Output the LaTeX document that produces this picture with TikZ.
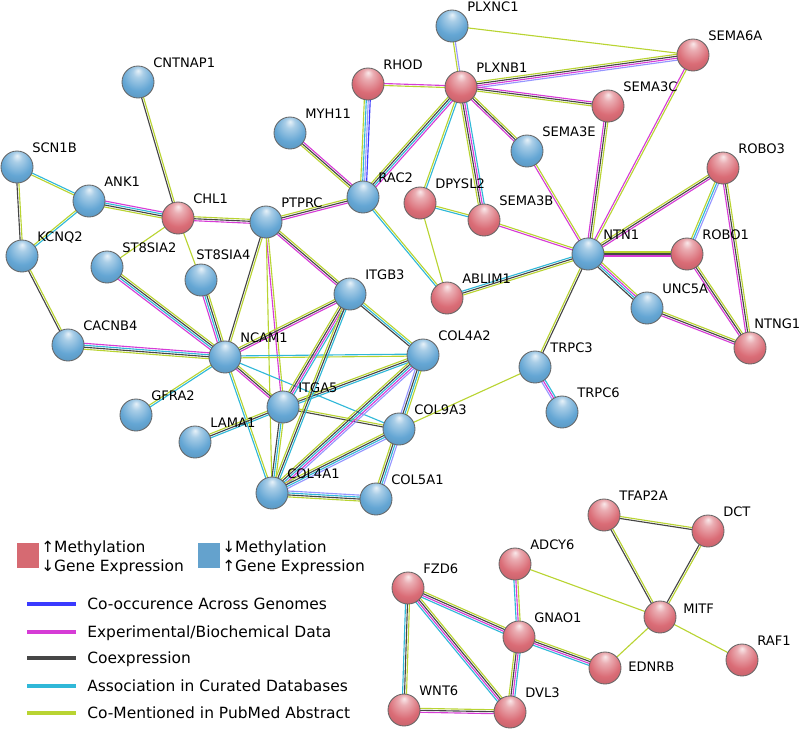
\documentclass[tikz,border=0pt]{standalone}
\usepackage{fontspec}
\setmainfont{DejaVu Sans}
\usetikzlibrary{calc,backgrounds}

\definecolor{hyper}{RGB}{214,106,114}
\definecolor{hypo}{RGB}{100,162,205}
\definecolor{hyperbody}{RGB}{218,108,118}
\definecolor{hypobody}{RGB}{100,166,212}
\definecolor{cooc}{RGB}{58,58,255}
\definecolor{cooclt}{RGB}{150,150,255}
\definecolor{expt}{RGB}{214,60,214}
\definecolor{coex}{RGB}{70,70,70}
\definecolor{cdb}{RGB}{48,184,216}
\definecolor{pubm}{RGB}{185,212,50}

\pgfdeclareradialshading{hyperball}{\pgfpoint{0bp}{18bp}}{color(0bp)=(white!85!hyperbody); color(8bp)=(hyperbody!55!white); color(24bp)=(hyperbody); color(44bp)=(hyperbody!82!black); color(56bp)=(hyperbody!55!black)}
\pgfdeclareradialshading{hypoball}{\pgfpoint{0bp}{18bp}}{color(0bp)=(white!85!hypobody); color(8bp)=(hypobody!55!white); color(24bp)=(hypobody); color(44bp)=(hypobody!82!black); color(56bp)=(hypobody!55!black)}

\tikzset{
	gene/.style={circle, minimum size=0.8cm, inner sep=0pt, shading=#1, draw=black!60, line width=0.6pt},
	tag/.style={anchor=base west, inner sep=0pt, font=\fontsize{9.3}{11}\selectfont},
	legtxt/.style={anchor=base west, inner sep=0pt, font=\fontsize{11}{13}\selectfont},
	strand/.style={line width=0.8pt},
	legline/.style={line width=3.4pt}
}

% sphere + name
\newcommand\gene[5]{\node[gene=#3] (#1) at (#2) {}; \node[tag] (#1-t) at ($(#1.center)+(#5)$) {#4};}
% one strand per evidence channel, side by side
\newcommand\ppi[3]{%
	\foreach \sc [count=\si] in {#3} {\xdef\nk{\si}}%
	\foreach \sc [count=\si] in {#3} {%
		\pgfmathsetmacro\off{(\si-(\nk+1)/2)*1.4}%
		\draw[strand, color=\sc] ($(#1.center)!\off pt!90:(#2.center)$) -- ($(#2.center)!\off pt!-90:(#1.center)$);%
	}%
}

\begin{document}
\begin{tikzpicture}[x=0.025cm, y=-0.025cm]
		%%%%% START %%%%%
		\useasboundingbox (0,0) rectangle (800,732);
		
		% left cluster
		\gene{cntnap1}{138,82}{hypoball}{CNTNAP1}{15,-15}
		\gene{scn1b}{17,167}{hypoball}{SCN1B}{15,-15}
		\gene{ank1}{89,201}{hypoball}{ANK1}{15,-15}
		\gene{chl1}{178,218}{hyperball}{CHL1}{15,-15}
		\gene{ptprc}{266,222}{hypoball}{PTPRC}{15,-15}
		\gene{kcnq2}{22,256}{hypoball}{KCNQ2}{15,-15}
		\gene{st8sia2}{107,267}{hypoball}{ST8SIA2}{15,-15}
		\gene{st8sia4}{201,280}{hypoball}{ST8SIA4}{-5,-21}
		\gene{cacnb4}{68,345}{hypoball}{CACNB4}{15,-15}
		\gene{ncam1}{225,357}{hypoball}{NCAM1}{15,-15}
		\gene{gfra2}{136,415}{hypoball}{GFRA2}{15,-15}
		\gene{lama1}{195,442}{hypoball}{LAMA1}{15,-15}
		\gene{itga5}{283,407}{hypoball}{ITGA5}{15,-15}
		\gene{itgb3}{350,294}{hypoball}{ITGB3}{15,-15}
		\gene{col4a2}{423,355}{hypoball}{COL4A2}{15,-15}
		\gene{col9a3}{399,429}{hypoball}{COL9A3}{15,-15}
		\gene{col4a1}{272,493}{hypoball}{COL4A1}{15,-15}
		\gene{col5a1}{376,499}{hypoball}{COL5A1}{15,-15}
		
		% upper right cluster
		\gene{plxnc1}{452,26}{hypoball}{PLXNC1}{15,-15}
		\gene{rhod}{368,84}{hyperball}{RHOD}{15,-15}
		\gene{plxnb1}{461,87}{hyperball}{PLXNB1}{15,-15}
		\gene{myh11}{290,133}{hypoball}{MYH11}{15,-15}
		\gene{rac2}{363,197}{hypoball}{RAC2}{15,-15}
		\gene{dpysl2}{420,203}{hyperball}{DPYSL2}{15,-15}
		\gene{sema3b}{484,220}{hyperball}{SEMA3B}{15,-15}
		\gene{sema3e}{527,151}{hypoball}{SEMA3E}{15,-15}
		\gene{sema6a}{693,55}{hyperball}{SEMA6A}{15,-15}
		\gene{sema3c}{608,106}{hyperball}{SEMA3C}{15,-15}
		\gene{robo3}{723,168}{hyperball}{ROBO3}{15,-15}
		\gene{ntn1}{588,254}{hypoball}{NTN1}{15,-15}
		\gene{robo1}{687,254}{hyperball}{ROBO1}{15,-15}
		\gene{unc5a}{647,308}{hypoball}{UNC5A}{15,-15}
		\gene{ntng1}{750,348}{hyperball}{NTNG1}{4,-20}
		\gene{ablim1}{447,298}{hyperball}{ABLIM1}{15,-15}
		\gene{trpc3}{535,367}{hypoball}{TRPC3}{15,-15}
		\gene{trpc6}{562,412}{hypoball}{TRPC6}{15,-15}
		
		% lower right cluster
		\gene{tfap2a}{604,515}{hyperball}{TFAP2A}{15,-15}
		\gene{dct}{708,531}{hyperball}{DCT}{15,-15}
		\gene{adcy6}{515,564}{hyperball}{ADCY6}{15,-15}
		\gene{fzd6}{408,588}{hyperball}{FZD6}{15,-15}
		\gene{mitf}{660,617}{hyperball}{MITF}{23,-4}
		\gene{gnao1}{519,637}{hyperball}{GNAO1}{15,-15}
		\gene{ednrb}{605,668}{hyperball}{EDNRB}{23,3}
		\gene{raf1}{742,660}{hyperball}{RAF1}{15,-15}
		\gene{wnt6}{404,710}{hyperball}{WNT6}{15,-15}
		\gene{dvl3}{510,712}{hyperball}{DVL3}{15,-15}
		
		\begin{scope}[on background layer]
		\ppi{cntnap1}{chl1}{coex,pubm}
		\ppi{scn1b}{ank1}{pubm,cdb}
		\ppi{scn1b}{kcnq2}{coex,pubm}
		\ppi{ank1}{kcnq2}{pubm,cdb}
		\ppi{ank1}{chl1}{pubm,coex,cdb,expt}
		\ppi{chl1}{ptprc}{expt,coex,pubm}
		\ppi{chl1}{st8sia2}{pubm}
		\ppi{chl1}{st8sia4}{pubm}
		\ppi{kcnq2}{cacnb4}{coex,pubm}
		\ppi{cacnb4}{ncam1}{pubm,coex,cdb,expt}
		\ppi{st8sia2}{ncam1}{expt,cdb,coex,pubm}
		\ppi{st8sia4}{ncam1}{expt,cdb,coex,pubm}
		\ppi{ptprc}{ncam1}{coex,pubm}
		\ppi{ptprc}{itga5}{expt,pubm}
		\ppi{ptprc}{col4a1}{pubm}
		\ppi{ptprc}{itgb3}{expt,coex,pubm}
		\ppi{ptprc}{rac2}{expt,coex,pubm}
		\ppi{ncam1}{itgb3}{expt,coex,pubm}
		\ppi{ncam1}{col4a2}{pubm,cdb}
		\ppi{ncam1}{col9a3}{cdb}
		\ppi{ncam1}{itga5}{expt,coex,pubm}
		\ppi{ncam1}{col4a1}{cdb,pubm}
		\ppi{ncam1}{gfra2}{pubm,cdb}
		\ppi{itga5}{lama1}{pubm,coex,cdb}
		\ppi{itga5}{col4a1}{coex,cdb,pubm}
		\ppi{itga5}{col9a3}{coex,pubm}
		\ppi{itga5}{col4a2}{cdb,coex,pubm}
		\ppi{itgb3}{itga5}{pubm,coex,expt,cdb}
		\ppi{itgb3}{col4a1}{pubm,coex,cdb}
		\ppi{itgb3}{col4a2}{coex,cdb,pubm}
		\ppi{col4a2}{col9a3}{cooclt,coex,cdb,pubm}
		\ppi{col4a2}{col4a1}{pubm,coex,cdb,expt,cooclt}
		\ppi{col9a3}{col4a1}{pubm,coex,cdb,cooclt}
		\ppi{col9a3}{col5a1}{pubm,coex,cdb,cooclt}
		\ppi{col4a1}{col5a1}{pubm,coex,cdb,cooclt}
		\ppi{col9a3}{trpc3}{pubm}
		
		\ppi{rac2}{rhod}{cooc,cooclt,cdb,pubm}
		\ppi{rac2}{myh11}{expt,coex,pubm}
		\ppi{rac2}{plxnb1}{expt,cdb,coex,pubm}
		\ppi{rac2}{ablim1}{cdb,pubm}
		\ppi{rhod}{plxnb1}{pubm,expt}
		\ppi{plxnc1}{plxnb1}{pubm,cooclt}
		\ppi{plxnc1}{sema6a}{pubm}
		\ppi{plxnb1}{sema6a}{cooclt,expt,coex,pubm}
		\ppi{plxnb1}{sema3c}{pubm,coex,expt}
		\ppi{plxnb1}{sema3e}{expt,coex,pubm}
		\ppi{plxnb1}{dpysl2}{pubm,cdb}
		\ppi{plxnb1}{sema3b}{pubm,coex,expt,cdb}
		\ppi{dpysl2}{sema3b}{cdb,pubm}
		\ppi{dpysl2}{ablim1}{pubm}
		\ppi{sema3b}{ntn1}{expt,pubm}
		\ppi{sema3e}{ntn1}{expt,pubm}
		\ppi{sema3c}{ntn1}{expt,coex,pubm}
		\ppi{sema6a}{ntn1}{expt,pubm}
		\ppi{ablim1}{ntn1}{pubm,coex,cdb}
		\ppi{ntn1}{robo3}{expt,coex,pubm}
		\ppi{ntn1}{robo1}{expt,coex,pubm}
		\ppi{ntn1}{unc5a}{coex,cdb,expt,pubm}
		\ppi{ntn1}{trpc3}{pubm,coex}
		\ppi{robo3}{robo1}{pubm,cdb,cooclt}
		\ppi{robo3}{ntng1}{expt,coex,pubm}
		\ppi{robo1}{ntng1}{expt,coex,pubm}
		\ppi{unc5a}{ntng1}{expt,coex,pubm}
		\ppi{trpc3}{trpc6}{cooclt,expt,cdb}
		
		\ppi{tfap2a}{dct}{coex,pubm}
		\ppi{tfap2a}{mitf}{coex,pubm}
		\ppi{dct}{mitf}{coex,pubm}
		\ppi{adcy6}{mitf}{pubm}
		\ppi{adcy6}{gnao1}{cdb,expt,pubm}
		\ppi{mitf}{ednrb}{pubm}
		\ppi{mitf}{raf1}{pubm}
		\ppi{fzd6}{gnao1}{cdb,expt,coex,pubm}
		\ppi{fzd6}{wnt6}{cdb,coex,pubm}
		\ppi{fzd6}{dvl3}{cdb,expt,coex,pubm}
		\ppi{gnao1}{ednrb}{cdb,expt,coex,pubm}
		\ppi{gnao1}{dvl3}{pubm,coex,expt,cdb}
		\ppi{wnt6}{dvl3}{expt,coex,pubm}
		\end{scope}
		
		% legend
		\fill[hyper] (17,543) rectangle (39,568);
		\fill[hypo] (198,543) rectangle (220,568);
		\node[legtxt] (meth-up) at (41,552) {↑Methylation};
		\node[legtxt] (expr-down) at (41,571) {↓Gene Expression};
		\node[legtxt] (meth-down) at (222,552) {↓Methylation};
		\node[legtxt] (expr-up) at (222,571) {↑Gene Expression};
		
		\draw[legline, cooc] (27,604) -- (76,604);
		\draw[legline, expt] (27,632) -- (76,632);
		\draw[legline, coex] (27,658) -- (76,658);
		\draw[legline, cdb] (27,686) -- (76,686);
		\draw[legline, pubm] (27,713) -- (76,713);
		\node[legtxt] (leg-cooc) at (87,609) {Co-occurence Across Genomes};
		\node[legtxt] (leg-expt) at (87,637) {Experimental/Biochemical Data};
		\node[legtxt] (leg-coex) at (87,663) {Coexpression};
		\node[legtxt] (leg-cdb) at (87,691) {Association in Curated Databases};
		\node[legtxt] (leg-pubm) at (87,718) {Co-Mentioned in PubMed Abstract};
		
		%%%%% END %%%%%
\end{tikzpicture}
\end{document}
